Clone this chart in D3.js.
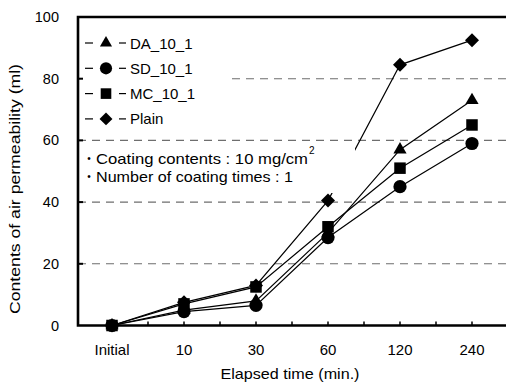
<!DOCTYPE html>
<html><head><meta charset="utf-8">
<script src="https://cdn.jsdelivr.net/npm/d3@7"></script>
<style>html,body{margin:0;padding:0;background:#fff;}svg{display:block;}</style>
</head><body>
<script>
const categories = ["Initial","10","30","60","120","240"];
const seriesNames = ["DA_10_1","SD_10_1","MC_10_1","Plain"];
const DA = [0, 5, 8, 30, 57, 73];
const SD = [0, 4.5, 6.5, 28.5, 45, 59];
const MC = [0, 7, 12.5, 32, 51, 65];
const Plain = [0, 7.5, 13, 40.5, 84.5, 92.5];
const yTicks = [0, 20, 40, 60, 80, 100];
const gridValues = [20, 40, 60, 80];

(function () {
const W = 506, H = 385;
const svg = d3.select("body").append("svg").attr("width", W).attr("height", H);
const font = "'Liberation Sans', Arial, sans-serif";

const pLeft = 78, pRight = 506, pTop = 17, pBottom = 325.5;
const x = d3.scalePoint().domain(categories).range([112, 472]);
const step = x.step();
const y = d3.scaleLinear().domain([0, 100]).range([pBottom, pTop]);

// gridlines
svg.append("g").selectAll("line").data(gridValues).join("line")
  .attr("x1", pLeft).attr("x2", pRight)
  .attr("y1", d => y(d)).attr("y2", d => y(d))
  .attr("stroke", "#6e6e6e").attr("stroke-width", 1.1).attr("stroke-dasharray", "8,6");

// series
const series = [
  {name: "DA_10_1", values: DA, shape: "tri"},
  {name: "Plain", values: Plain, shape: "dia"},
  {name: "MC_10_1", values: MC, shape: "sq"},
  {name: "SD_10_1", values: SD, shape: "circ"}
];
const line = d3.line().x((d, i) => x(categories[i])).y(d => y(d));
svg.append("g").selectAll("path").data(series).join("path")
  .attr("d", s => line(s.values)).attr("fill", "none")
  .attr("stroke", "#000").attr("stroke-width", 1.2);

function drawMarker(g, shape, cx, cy, sc) {
  sc = sc || 1;
  if (shape === "tri") {
    g.append("path").attr("d", d3.symbol().type(d3.symbolTriangle).size(75 * sc)())
      .attr("transform", `translate(${cx},${cy})`).attr("fill", "#000");
  } else if (shape === "dia") {
    const r = 7 * Math.sqrt(sc);
    g.append("path").attr("d", `M${cx},${cy - r}L${cx + r},${cy}L${cx},${cy + r}L${cx - r},${cy}Z`).attr("fill", "#000");
  } else if (shape === "sq") {
    const s = 11.5 * Math.sqrt(sc);
    g.append("rect").attr("x", cx - s / 2).attr("y", cy - s / 2).attr("width", s).attr("height", s).attr("fill", "#000");
  } else {
    g.append("circle").attr("cx", cx).attr("cy", cy).attr("r", 6.6 * Math.sqrt(sc)).attr("fill", "#000");
  }
}
const mg = svg.append("g");
series.forEach(s => s.values.forEach((v, i) => drawMarker(mg, s.shape, x(categories[i]), y(v))));

// annotation box (white background)
svg.append("rect").attr("x", pLeft + 2).attr("y", 145).attr("width", 355 - pLeft - 2).attr("height", 48).attr("fill", "#fff");
const ann = svg.append("g").attr("font-family", font).attr("font-size", 15).attr("fill", "#000");
ann.append("text").attr("x", 89).attr("y", 158).attr("dominant-baseline", "central").attr("text-anchor", "middle").attr("font-size", 10).text("•");
ann.append("text").attr("x", 96).attr("y", 158).attr("dominant-baseline", "central")
  .attr("textLength", 212).attr("lengthAdjust", "spacingAndGlyphs").text("Coating contents : 10 mg/cm");
ann.append("text").attr("x", 309).attr("y", 150).attr("dominant-baseline", "central").attr("font-size", 10).text("2");
ann.append("text").attr("x", 89).attr("y", 176).attr("dominant-baseline", "central").attr("text-anchor", "middle").attr("font-size", 10).text("•");
ann.append("text").attr("x", 96).attr("y", 176).attr("dominant-baseline", "central")
  .attr("textLength", 197).attr("lengthAdjust", "spacingAndGlyphs").text("Number of coating times : 1");

// legend box
svg.append("rect").attr("x", pLeft + 2).attr("y", 28).attr("width", 150).attr("height", 102).attr("fill", "#fff");
const legendOrder = [
  {name: "DA_10_1", shape: "tri"},
  {name: "SD_10_1", shape: "circ"},
  {name: "MC_10_1", shape: "sq"},
  {name: "Plain", shape: "dia"}
];
const lg = svg.append("g");
legendOrder.forEach((d, i) => {
  const cy = 43 + i * 25.3;
  lg.append("line").attr("x1", 85).attr("x2", 93).attr("y1", cy).attr("y2", cy).attr("stroke", "#000").attr("stroke-width", 1.2);
  lg.append("line").attr("x1", 119).attr("x2", 126).attr("y1", cy).attr("y2", cy).attr("stroke", "#000").attr("stroke-width", 1.2);
  drawMarker(lg, d.shape, 106, cy, 0.85);
  lg.append("text").attr("x", 130).attr("y", cy).attr("dominant-baseline", "central")
    .attr("font-family", font).attr("font-size", 15).text(d.name);
});

// frame
svg.append("path").attr("d", `M${pRight},${pTop}H${pLeft}V${pBottom}H${pRight}`)
  .attr("fill", "none").attr("stroke", "#000").attr("stroke-width", 2.6);

// x ticks (inside, every half step)
const xTickPos = [];
categories.forEach((c, i) => { xTickPos.push(x(c)); if (i < categories.length - 1) xTickPos.push(x(c) + step / 2); });
svg.append("g").selectAll("line").data(xTickPos).join("line")
  .attr("x1", d => d).attr("x2", d => d).attr("y1", pBottom).attr("y2", pBottom - 4)
  .attr("stroke", "#000").attr("stroke-width", 1.5);
// y ticks
svg.append("g").selectAll("line").data(gridValues).join("line")
  .attr("x1", pLeft).attr("x2", pLeft + 5).attr("y1", d => y(d)).attr("y2", d => y(d))
  .attr("stroke", "#000").attr("stroke-width", 2);

// tick labels
svg.append("g").selectAll("text").data(categories).join("text")
  .attr("x", d => x(d)).attr("y", 349).attr("text-anchor", "middle").attr("dominant-baseline", "central")
  .attr("font-family", font).attr("font-size", 15).text(d => d);
svg.append("g").selectAll("text").data(yTicks).join("text")
  .attr("x", 59).attr("y", d => y(d)).attr("text-anchor", "end").attr("dominant-baseline", "central")
  .attr("font-family", font).attr("font-size", 14.5).text(d => d);

// axis titles
svg.append("text").attr("x", 290).attr("y", 373).attr("text-anchor", "middle").attr("dominant-baseline", "central")
  .attr("font-family", font).attr("font-size", 15).attr("textLength", 139).attr("lengthAdjust", "spacingAndGlyphs")
  .text("Elapsed time (min.)");
svg.append("text").attr("transform", "translate(14,189) rotate(-90)").attr("text-anchor", "middle").attr("dominant-baseline", "central")
  .attr("font-family", font).attr("font-size", 15).attr("textLength", 250).attr("lengthAdjust", "spacingAndGlyphs")
  .text("Contents of air permeability (ml)");
})();
</script>
</body></html>
